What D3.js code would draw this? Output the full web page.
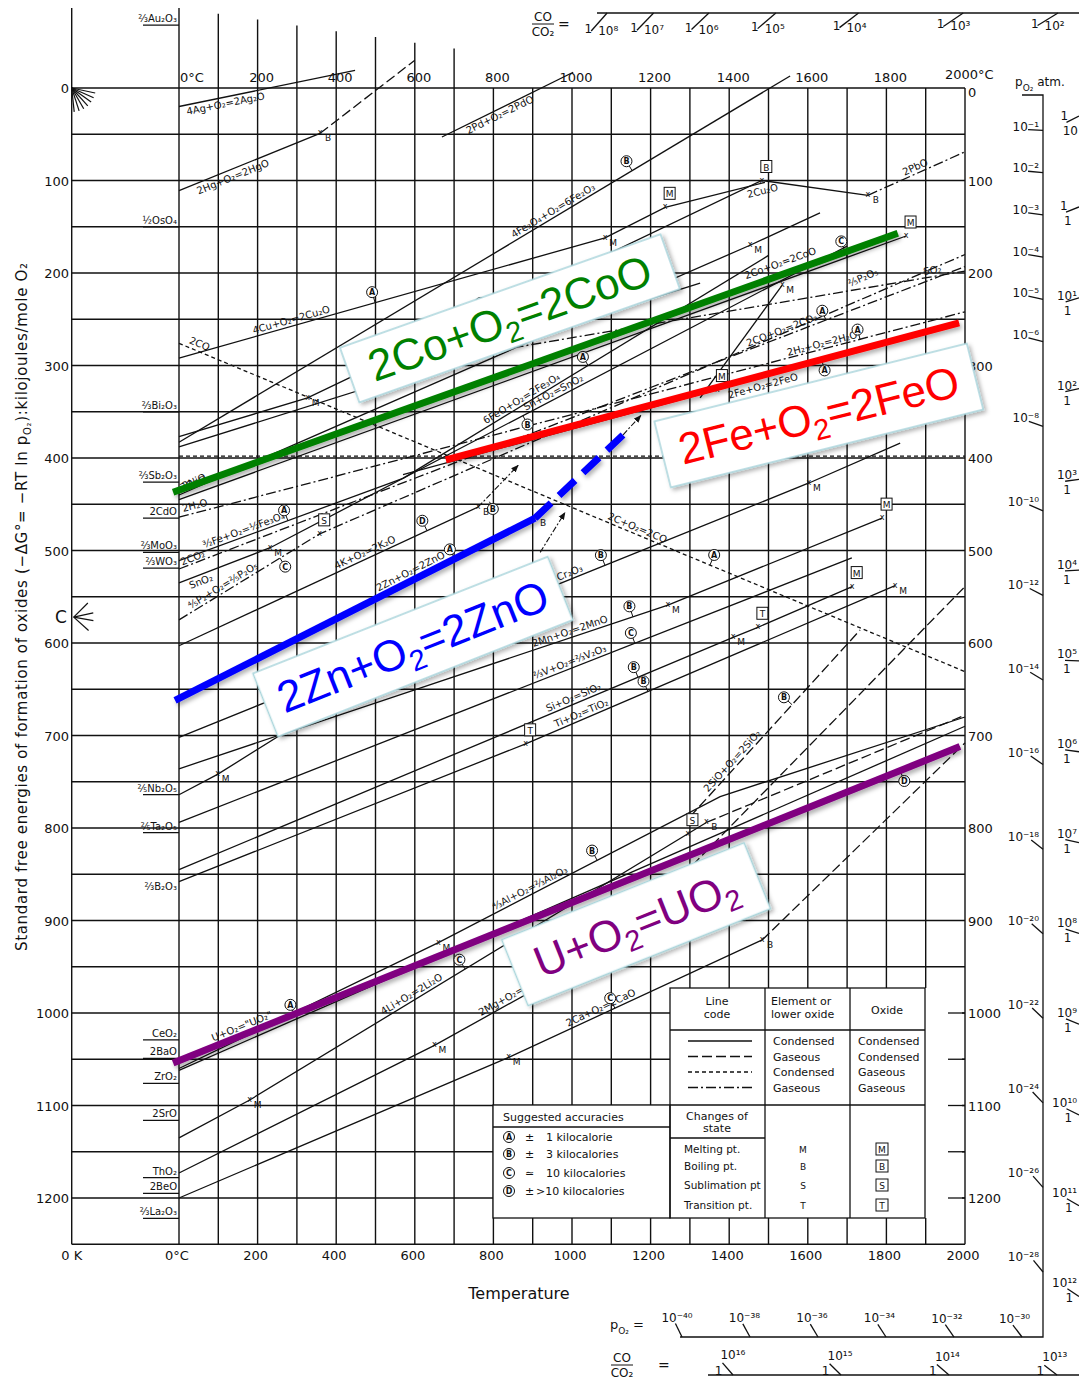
<!DOCTYPE html>
<html>
<head>
<meta charset="utf-8">
<title>Ellingham diagram for oxides</title>
<script src="https://cdn.jsdelivr.net/npm/d3@7/dist/d3.min.js"></script>
<style>
body { margin: 0; background: #fff; }
svg text { font-family: "DejaVu Sans", sans-serif; }
</style>
</head>
<body>
<script>
// temperatures in deg C, energies are -dG in kJ per mole O2

var tempTicks = d3.range(0, 2001, 200);
var energyTicks = d3.range(0, 1201, 100);

// id, line code (element / oxide state), points [T, -dG]
var reactions = [
  ["Ag2O",   "cc", [[0, 20], [448, -19]]],
  ["HgO",    "cc", [[0, 111], [359, 49]]],
  ["HgOg",   "gc", [[359, 49], [600, -30]]],
  ["PdO",    "cc", [[669, 53], [1003, -17]]],
  ["Fe2O3",  "cc", [[0, 383], [1555, -13]]],
  ["Cu2O",   "cc", [[0, 292], [1084, 162], [1237, 129], [1491, 102]]],
  ["PbO",    "cc", [[0, 377], [327, 335], [1483, 100], [1753, 116]]],
  ["PbOg",   "gg", [[1753, 116], [2000, 69]]],
  ["Bi2O3",  "cc", [[0, 388], [1326, 211]]],
  ["CO",     "cg", [[0, 276], [2000, 631]]],
  ["CO2",    "cg", [[0, 398], [2000, 398]]],
  ["SO2",    "gg", [[445, 310], [2000, 198]]],
  ["H2O",    "gg", [[0, 464], [2000, 242]]],
  ["CO2b",   "gg", [[0, 520], [2000, 193]]],
  ["SnO2",   "cc", [[0, 535], [232, 497], [1700, 171]]],
  ["Fe3O4a", "cc", [[570, 422], [1500, 181]]],
  ["Fe3O4b", "cc", [[0, 511], [570, 422]]],
  ["FeO",    "cc", [[570, 418], [1370, 326], [1985, 254]]],
  ["NiO",    "cc", [[0, 440], [1453, 170], [1631, 135]]],
  ["CoO",    "cc", [[0, 445], [1850, 160]]],
  ["P2O5",   "gg", [[0, 575], [358, 482], [2000, 180]]],
  ["K2O",    "cc", [[0, 603], [761, 453]]],
  ["ZnO",    "cc", [[0, 662], [906, 465]]],
  ["Cr2O3",  "cc", [[0, 702], [1603, 427], [1835, 384]]],
  ["MnO",    "cc", [[0, 736], [1244, 559], [1789, 465]]],
  ["Na2O",   "cc", [[0, 764], [98, 742], [883, 534]]],
  ["V2O3",   "cc", [[0, 794], [1712, 508]]],
  ["SiO2",   "cc", [[0, 845], [1410, 594], [1473, 583], [1713, 539]]],
  ["TiO2",   "cc", [[0, 858], [882, 709], [1822, 538]]],
  ["SiOg",   "gc", [[1300, 788], [1733, 586]]],
  ["Al2O3",  "cc", [[0, 1060], [660, 924], [1377, 766], [2000, 680]]],
  ["UO2",    "cc", [[0, 1054], [1987, 712]]],
  ["ZrO2",   "cc", [[0, 1062], [2000, 690]]],
  ["Li2O",   "cc", [[0, 1135], [180, 1094], [1342, 794]]],
  ["Li2Og",  "gc", [[1342, 794], [2000, 678]]],
  ["MgO",    "cc", [[0, 1173], [650, 1035], [1107, 927]]],
  ["MgOg",   "gc", [[1107, 927], [2000, 539]]],
  ["CaO",    "cc", [[0, 1200], [839, 1048], [1484, 921]]],
  ["CaOg",   "gc", [[1484, 921], [2000, 708]]],
  ["Zng",    "cc", [[1326, 335], [1535, 213]]]
];

// arrows showing where lines leave after boiling
var arrows = [
  [[761, 453], [863, 408]],
  [[919, 502], [982, 459]],
  [[1130, 375], [1175, 354]]
];

// label text along a reaction: id, text, T, offset (+ above)
var lineLabels = [
  ["Ag2O", "4Ag+O₂=2Ag₂O", 115, -10],
  ["HgO", "2Hg+O₂=2HgO", 130, -11],
  ["PdO", "2Pd+O₂=2PdO", 810, -9],
  ["Fe2O3", "4Fe₃O₄+O₂=6Fe₂O₃", 960, 3],
  ["Cu2O", "4Cu+O₂=2Cu₂O", 290, 3],
  ["Cu2O", "2Cu₂O", 1480, -11],
  ["PbOg", "2PbO", 1880, 3],
  ["CO", "2CO", 45, 4],
  ["CO", "2C+O₂=2CO", 1160, 3],
  ["H2O", "2H₂O", 45, 4],
  ["H2O", "2H₂+O₂=2H₂O", 1640, 2],
  ["CO2b", "2CO₂", 40, 2],
  ["CO2b", "2CO+O₂=2CO₂", 1540, 3],
  ["SnO2", "SnO₂", 50, -10],
  ["SnO2", "Sn+O₂=SnO₂", 960, 3],
  ["Fe3O4a", "6FeO+O₂=2Fe₃O₄", 880, 3],
  ["Fe3O4b", "³⁄₂Fe+O₂=½Fe₃O₄", 170, 3],
  ["FeO", "2Fe+O₂=2FeO", 1480, -12],
  ["NiO", "2NiO", 45, 3],
  ["CoO", "2CoO", 45, 7],
  ["CoO", "2Co+O₂=2CoO", 1545, 14],
  ["P2O5", "⅘P₂+O₂=⅖P₂O₅", 120, 3],
  ["P2O5", "⅖P₂O₅", 1760, 16],
  ["SO2", "SO₂", 1920, 3],
  ["K2O", "4K+O₂=2K₂O", 480, 3],
  ["ZnO", "2Zn+O₂=2ZnO", 600, 6],
  ["Cr2O3", "Cr₂O₃", 1000, 3],
  ["MnO", "2Mn+O₂=2MnO", 1000, 3],
  ["V2O3", "⅔V+O₂=⅔V₂O₃", 1000, 3],
  ["SiO2", "Si+O₂=SiO₂", 1010, 3],
  ["TiO2", "Ti+O₂=TiO₂", 1030, 3],
  ["SiOg", "2SiO+O₂=2SiO₂", 1420, 3],
  ["Al2O3", "⁴⁄₃Al+O₂=⅔Al₂O₃", 900, 3],
  ["UO2", "U+O₂=\"UO₂\"", 170, 7],
  ["Li2O", "4Li+O₂=2Li₂O", 600, 3],
  ["MgO", "2Mg+O₂=2MgO", 860, 3],
  ["CaO", "2Ca+O₂=2CaO", 1080, 3]
];

// suggested accuracy (circled letter): id, T, letter, offset
var accuracyMarks = [
  ["Cu2O", 499, "A", 11], ["Fe2O3", 1153, "B", 11], ["PbO", 779, "B", 11], ["CoO", 1700, "C", 17],
  ["H2O", 1733, "A", 10], ["CO2b", 1646, "A", 10], ["FeO", 1636, "A", -10], ["Fe3O4a", 1041, "A", 10],
  ["Fe3O4b", 277, "A", 11], ["P2O5", 257, "C", -10], ["SnO2", 875, "B", -10], ["K2O", 631, "D", 11],
  ["K2O", 790, "B", -8], ["ZnO", 702, "A", 11], ["CO", 1351, "A", 11], ["Cr2O3", 1084, "B", 11],
  ["MnO", 1155, "B", 11], ["V2O3", 1160, "C", 11], ["SiO2", 1168, "B", 11], ["TiO2", 1193, "B", 11],
  ["SiOg", 1560, "B", 11], ["Al2O3", 1064, "B", 11], ["UO2", 295, "A", 12], ["UO2", 1835, "D", -11],
  ["Li2O", 728, "C", 11], ["CaO", 1109, "C", 11]
];

// changes of state: id, T, letter, oxide (boxed) or element
var stateMarks = [
  ["HgO", 359, "B", 0], ["PbO", 327, "M", 0], ["PbO", 1483, "B", 1], ["PbO", 1753, "B", 0],
  ["Cu2O", 1084, "M", 0], ["Cu2O", 1237, "M", 1], ["NiO", 1453, "M", 0], ["CoO", 1850, "M", 1],
  ["FeO", 1370, "M", 1], ["SnO2", 232, "M", 0], ["P2O5", 358, "S", 1], ["K2O", 761, "B", 0],
  ["ZnO", 906, "B", 0], ["Cr2O3", 1603, "M", 0], ["MnO", 1244, "M", 0], ["MnO", 1789, "M", 1],
  ["SiO2", 1410, "M", 0], ["SiO2", 1473, "T", 1], ["SiO2", 1713, "M", 1], ["TiO2", 882, "T", 1],
  ["TiO2", 1822, "M", 0], ["Na2O", 98, "M", 0], ["Al2O3", 660, "M", 0], ["Li2O", 180, "M", 0],
  ["Li2O", 1342, "B", 0], ["Li2O", 1295, "S", 1], ["MgO", 650, "M", 0], ["MgO", 1107, "B", 0],
  ["CaO", 839, "M", 0], ["CaO", 1484, "B", 0], ["Zng", 1535, "M", 0]
];

// oxide names at the 0 deg C edge: text, -dG, underline
var leftOxides = [
  ["⅔Au₂O₃", -68, 1], ["½OsO₄", 150, 1], ["⅔Bi₂O₃", 350, 1], ["⅔Sb₂O₃", 426, 1],
  ["2CdO", 465, 1], ["⅔MoO₃", 502, 1], ["⅔WO₃", 519, 1], ["⅖Nb₂O₅", 764, 1],
  ["⅖Ta₂O₅", 805, 1], ["⅔B₂O₃", 870, 0], ["CeO₂", 1029, 1], ["2BaO", 1049, 1],
  ["ZrO₂", 1076, 1], ["2SrO", 1116, 1], ["ThO₂", 1178, 1], ["2BeO", 1195, 1], ["⅔La₂O₃", 1222, 1]
];

// highlighted reactions
var coOverlay = [[-15, 437], [1829, 157]];
var feOverlay = [[679, 402], [1985, 254]];
var znSolid = [[-10, 662], [906, 465]];
var znDashed = [[906, 465], [1130, 375]];
var uOverlay = [[-15, 1054], [1987, 712]];

// callouts: text parts, colour, centre T, centre -dG, angle, width, height
var callouts = [
  [["2Co+O", "2", "=2CoO"], "#008000", 842, 249, -19.5, 340, 58],
  [["2Fe+O", "2", "=2FeO"], "#ff0000", 1628, 354, -14, 322, 68],
  [["2Zn+O", "2", "=2ZnO"], "#0000ff", 595, 604, -21.6, 317, 68],
  [["U+O", "2", "=UO", "2"], "#800080", 1163, 904, -21.8, 261, 71]
];

// nomogram scales
var po2RightExp = [1, 2, 3, 4, 5, 6, 8, 10, 12, 14, 16, 18, 20, 22, 24, 26, 28];
var po2BottomExp = [40, 38, 36, 34, 32, 30];
var coTopExp = [8, 7, 6, 5, 4, 3, 2];
var coRightExp = [-1, 0, 1, 2, 3, 4, 5, 6, 7, 8, 9, 10, 11, 12];
var coBottomExp = [16, 15, 14, 13];
var gC = 572, coA = 0.173, coB = 0.0383;  // 2CO+O2=2CO2 and 2R ln10

var legendRows = [["cc", "Condensed", "Condensed"], ["gc", "Gaseous", "Condensed"],
                  ["cg", "Condensed", "Gaseous"], ["gg", "Gaseous", "Gaseous"]];
var stateRows = [["Melting pt.", "M"], ["Boiling pt.", "B"], ["Sublimation pt", "S"], ["Transition pt.", "T"]];
var accuracyRows = [["A", "±", "1 kilocalorie"], ["B", "±", "3 kilocalories"],
                    ["C", "≃", "10 kilocalories"], ["D", "±", ">10 kilocalories"]];

var dashes = {cc: null, gc: "10,4", cg: "4,3", gg: "10,3,2,3"};

var svg = d3.select("body").append("svg").attr("width", 1079).attr("height", 1380);
var x = d3.scaleLinear().domain([0, 2000]).range([179, 965]);
var y = d3.scaleLinear().domain([0, 1200]).range([88, 1198]);
var line = d3.line().x(function(d) { return x(d[0]); }).y(function(d) { return y(d[1]); });

var defs = svg.append("defs");
var sh = defs.append("filter").attr("id", "shadow")
  .attr("x", "-10%").attr("y", "-30%").attr("width", "125%").attr("height", "170%");
sh.append("feDropShadow").attr("dx", 2).attr("dy", 3).attr("stdDeviation", 2.2)
  .attr("flood-color", "#000").attr("flood-opacity", 0.3);
defs.append("marker").attr("id", "arrow").attr("viewBox", "0 0 10 10")
  .attr("refX", 9).attr("refY", 5).attr("markerWidth", 7).attr("markerHeight", 7)
  .attr("orient", "auto")
  .append("path").attr("d", "M0,1 L10,5 L0,9 Z").attr("fill", "#111");

var ink = "#111";

// grid
var grid = svg.append("g").attr("stroke", ink).attr("stroke-width", 1.4);
d3.range(0, 2001, 100).forEach(function(t) {
  var top = t <= 700 ? 8 + t * 0.058 : y(0);
  grid.append("line").attr("x1", x(t)).attr("x2", x(t)).attr("y1", top).attr("y2", y(1250));
});
grid.append("line").attr("x1", x(-273)).attr("x2", x(-273)).attr("y1", 8).attr("y2", y(1250));
d3.range(0, 1251, 50).forEach(function(g) {
  grid.append("line").attr("x1", x(-273)).attr("x2", x(2000)).attr("y1", y(g)).attr("y2", y(g));
});

// reaction lines
var byId = {};
var rl = svg.append("g").attr("fill", "none").attr("stroke", ink).attr("stroke-width", 1.3);
reactions.forEach(function(r) {
  byId[r[0]] = r[2];
  rl.append("path").attr("d", line(r[2])).attr("stroke-dasharray", dashes[r[1]]);
});
arrows.forEach(function(a) {
  rl.append("path").attr("d", line(a)).attr("stroke-dasharray", "6,2,2,2")
    .attr("stroke-width", 1.1).attr("marker-end", "url(#arrow)");
});

function pointAt(pts, t) {
  for (var i = 0; i < pts.length - 1; i++) {
    var a = pts[i], b = pts[i + 1];
    if ((t >= a[0] && t <= b[0]) || i === pts.length - 2) {
      var f = (t - a[0]) / (b[0] - a[0]);
      var ax = x(a[0]), ay = y(a[1]), bx = x(b[0]), by = y(b[1]);
      return {x: ax + f * (bx - ax), y: ay + f * (by - ay), a: Math.atan2(by - ay, bx - ax)};
    }
  }
}

var lab = svg.append("g").attr("fill", ink).attr("font-size", 10);
lineLabels.forEach(function(l) {
  var p = pointAt(byId[l[0]], l[2]);
  var px = p.x + l[3] * Math.sin(p.a), py = p.y - l[3] * Math.cos(p.a);
  lab.append("text").attr("text-anchor", "middle")
    .attr("transform", "translate(" + px + "," + py + ") rotate(" + (p.a * 180 / Math.PI) + ")")
    .text(l[1]);
});

accuracyMarks.forEach(function(m) {
  var p = pointAt(byId[m[0]], m[1]);
  var cx = p.x + m[3] * Math.sin(p.a), cy = p.y - m[3] * Math.cos(p.a);
  lab.append("line").attr("x1", p.x).attr("y1", p.y)
    .attr("x2", p.x + (m[3] - Math.sign(m[3]) * 5) * Math.sin(p.a))
    .attr("y2", p.y - (m[3] - Math.sign(m[3]) * 5) * Math.cos(p.a))
    .attr("stroke", ink).attr("stroke-width", 1);
  lab.append("circle").attr("cx", cx).attr("cy", cy).attr("r", 5.5)
    .attr("fill", "#fff").attr("stroke", ink).attr("stroke-width", 1);
  lab.append("text").attr("x", cx).attr("y", cy + 3).attr("text-anchor", "middle")
    .attr("font-size", 8).attr("font-weight", "bold").text(m[2]);
});

stateMarks.forEach(function(m) {
  var p = pointAt(byId[m[0]], m[1]);
  lab.append("text").attr("x", p.x).attr("y", p.y + 2).attr("text-anchor", "middle")
    .attr("font-size", 8).text("x");
  if (m[3]) {
    lab.append("rect").attr("x", p.x - 1).attr("y", p.y - 20).attr("width", 11).attr("height", 12)
      .attr("fill", "#fff").attr("stroke", ink).attr("stroke-width", 1);
    lab.append("text").attr("x", p.x + 4.5).attr("y", p.y - 10).attr("text-anchor", "middle")
      .attr("font-size", 9).text(m[2]);
  } else {
    lab.append("text").attr("x", p.x + 8).attr("y", p.y + 8).attr("text-anchor", "middle")
      .attr("font-size", 9).text(m[2]);
  }
});

// oxide names at left
leftOxides.forEach(function(o) {
  lab.append("text").attr("x", 177).attr("y", y(o[1]) - 3).attr("text-anchor", "end")
    .attr("font-size", 10).text(o[0]);
  if (o[2]) {
    lab.append("line").attr("x1", 143).attr("x2", x(0)).attr("y1", y(o[1])).attr("y2", y(o[1]))
      .attr("stroke", ink).attr("stroke-width", 1.3);
  }
});

// fans at O and C
var O = [x(-273), y(0)], C = [x(-273), y(gC)];
[12, 24, 36, 48, 60, 72, 84].forEach(function(a) {
  var r = a * Math.PI / 180;
  svg.append("line").attr("x1", O[0]).attr("y1", O[1])
    .attr("x2", O[0] + 24 * Math.cos(r)).attr("y2", O[1] + 24 * Math.sin(r))
    .attr("stroke", ink).attr("stroke-width", 1.2);
});
[-45, -12, 10, 42].forEach(function(a) {
  var r = a * Math.PI / 180;
  svg.append("line").attr("x1", C[0] + 2).attr("y1", C[1])
    .attr("x2", C[0] + 2 + 20 * Math.cos(r)).attr("y2", C[1] + 20 * Math.sin(r))
    .attr("stroke", ink).attr("stroke-width", 1.2);
});
svg.append("text").attr("x", 55).attr("y", C[1] + 6).attr("font-size", 17).attr("fill", ink).text("C");

// legend background
svg.append("rect").attr("x", 670).attr("y", 988).attr("width", 292).attr("height", 230).attr("fill", "#fff");
svg.append("rect").attr("x", 493).attr("y", 1105).attr("width", 177).attr("height", 113).attr("fill", "#fff");

// axes labels
var ax = svg.append("g").attr("fill", ink).attr("font-size", 13);
energyTicks.forEach(function(g) {
  ax.append("text").attr("x", 69).attr("y", y(g) + 5).attr("text-anchor", "end").text(g);
  ax.append("text").attr("x", 968).attr("y", g === 0 ? y(g) + 9 : y(g) + 5).text(g);
});
[1000, 1050, 1100, 1150, 1200].forEach(function(g) {
  svg.append("line").attr("x1", 948).attr("x2", x(2000)).attr("y1", y(g)).attr("y2", y(g))
    .attr("stroke", ink).attr("stroke-width", 1.3);
});
tempTicks.forEach(function(t) {
  var top = t === 0 ? "0°C" : (t === 2000 ? "2000°C" : t);
  ax.append("text").attr("x", t === 0 ? x(0) + 1 : (t === 2000 ? x(t) - 20 : x(t) + 4))
    .attr("y", t === 2000 ? 79 : 82)
    .attr("text-anchor", t === 0 || t === 2000 ? "start" : "middle").text(top);
  ax.append("text").attr("x", x(t) - 2).attr("y", 1260).attr("text-anchor", "middle")
    .text(t === 0 ? "0°C" : t);
});
ax.append("text").attr("x", x(-273)).attr("y", 1260).attr("text-anchor", "middle").text("0 K");
ax.append("text").attr("x", 519).attr("y", 1299).attr("text-anchor", "middle").attr("font-size", 16)
  .text("Temperature");

function addSub(t, before, sub, after, size, shift) {
  t.append("tspan").text(before);
  t.append("tspan").attr("font-size", size).attr("dy", shift).text(sub);
  t.append("tspan").attr("dy", -shift).text(after);
}
var yt = ax.append("text").attr("transform", "translate(27,607) rotate(-90)")
  .attr("text-anchor", "middle").attr("font-size", 15)
  .attr("textLength", 688).attr("lengthAdjust", "spacing");
addSub(yt, "Standard  free  energies  of  formation  of  oxides  (−ΔG°= −RT ln p", "O₂",
  "):kilojoules/mole  O₂", 10, 4);

// legend
var lg = svg.append("g").attr("fill", ink).attr("font-size", 11);
var lgl = svg.append("g").attr("stroke", ink).attr("stroke-width", 1.3).attr("fill", "none");
lgl.append("rect").attr("x", 670).attr("y", 988).attr("width", 255).attr("height", 230);
lgl.append("rect").attr("x", 493).attr("y", 1105).attr("width", 177).attr("height", 113);
[[765, 988, 765, 1218], [850, 988, 850, 1218], [670, 1030, 925, 1030], [670, 1105, 925, 1105],
 [670, 1138, 765, 1138], [493, 1127, 670, 1127]].forEach(function(s) {
  lgl.append("line").attr("x1", s[0]).attr("y1", s[1]).attr("x2", s[2]).attr("y2", s[3]);
});
lg.append("text").attr("x", 717).attr("y", 1005).attr("text-anchor", "middle").text("Line");
lg.append("text").attr("x", 717).attr("y", 1018).attr("text-anchor", "middle").text("code");
lg.append("text").attr("x", 771).attr("y", 1005).text("Element or");
lg.append("text").attr("x", 771).attr("y", 1018).text("lower  oxide");
lg.append("text").attr("x", 887).attr("y", 1014).attr("text-anchor", "middle").text("Oxide");
legendRows.forEach(function(r, i) {
  var yy = 1045 + i * 15.5;
  lgl.append("line").attr("x1", 688).attr("x2", 752).attr("y1", yy - 4).attr("y2", yy - 4)
    .attr("stroke-dasharray", dashes[r[0]]);
  lg.append("text").attr("x", 773).attr("y", yy).text(r[1]);
  lg.append("text").attr("x", 858).attr("y", yy).text(r[2]);
});
lg.append("text").attr("x", 717).attr("y", 1120).attr("text-anchor", "middle").text("Changes of");
lg.append("text").attr("x", 717).attr("y", 1132).attr("text-anchor", "middle").text("state");
stateRows.forEach(function(r, i) {
  var yy = [1153, 1170, 1189, 1209][i];
  lg.append("text").attr("x", 684).attr("y", yy).attr("font-size", 10.5).text(r[0]);
  lg.append("text").attr("x", 803).attr("y", yy).attr("text-anchor", "middle").attr("font-size", 9).text(r[1]);
  lgl.append("rect").attr("x", 876).attr("y", yy - 10).attr("width", 12).attr("height", 12).attr("stroke-width", 1);
  lg.append("text").attr("x", 882).attr("y", yy).attr("text-anchor", "middle").attr("font-size", 9).text(r[1]);
});
lg.append("text").attr("x", 503).attr("y", 1121).text("Suggested  accuracies");
accuracyRows.forEach(function(r, i) {
  var yy = [1141, 1158, 1177, 1195][i];
  lgl.append("circle").attr("cx", 509).attr("cy", yy - 4).attr("r", 5.5).attr("stroke-width", 1);
  lg.append("text").attr("x", 509).attr("y", yy - 1).attr("text-anchor", "middle")
    .attr("font-size", 8).attr("font-weight", "bold").text(r[0]);
  lg.append("text").attr("x", 525).attr("y", yy).text(r[1]);
  lg.append("text").attr("x", r[0] === "D" ? 536 : 546).attr("y", yy).text(r[2]);
});

// nomograms
function unit(ax0, ay0, bx, by) {
  var dx = bx - ax0, dy = by - ay0, l = Math.hypot(dx, dy);
  return [dx / l, dy / l];
}
var supMap = {"-": "⁻", "0": "⁰", "1": "¹", "2": "²", "3": "³", "4": "⁴", "5": "⁵",
              "6": "⁶", "7": "⁷", "8": "⁸", "9": "⁹"};
function sup(s) { return String(s).split("").map(function(c) { return supMap[c]; }).join(""); }

var nm = svg.append("g").attr("stroke", ink).attr("stroke-width", 1.3).attr("fill", "none");
var nt = svg.append("g").attr("fill", ink).attr("font-size", 12);
var po2Right = d3.scaleLinear().domain([0, 28]).range([y(0), 1272]);
var po2Bottom = d3.scaleLinear().domain([40, 30]).range([682, 1022]);
var coBottom = d3.scaleLinear().domain([16, 13]).range([733, 1057]);

nm.append("path").attr("d", "M1022,95 H1043 V1337 H680");
nm.append("path").attr("d", "M597,13 H1079");
nm.append("path").attr("d", "M708,1375 H1079");

var pa = nt.append("text").attr("x", 1015).attr("y", 86).attr("font-size", 12);
addSub(pa, "p", "O₂", " atm.", 9, 5);

po2RightExp.forEach(function(n) {
  var ex = 1043, ey = po2Right(n), u = unit(O[0], O[1], ex, ey);
  var sx = ex - 15 * u[0], sy = ey - 15 * u[1];
  nm.append("line").attr("x1", sx).attr("y1", sy).attr("x2", ex).attr("y2", ey);
  nt.append("text").attr("x", 1039).attr("y", sy + 1).attr("text-anchor", "end").text("10" + sup(-n));
});
po2BottomExp.forEach(function(n) {
  var ex = po2Bottom(n), ey = 1337, u = unit(O[0], O[1], ex, ey);
  var sx = ex - 15 * u[0], sy = ey - 15 * u[1];
  nm.append("line").attr("x1", sx).attr("y1", sy).attr("x2", ex).attr("y2", ey);
  nt.append("text").attr("x", sx - 14).attr("y", sy - 2).text("10" + sup(-n));
});
var pb = nt.append("text").attr("x", 610).attr("y", 1329).attr("font-size", 13);
addSub(pb, "p", "O₂", " =", 9, 5);

var gTop = y.invert(13);
coTopExp.forEach(function(n) {
  var tk = (gC - gTop) / (coA + coB * n);
  var ex = Math.min(x(tk - 273), 1058), ey = 13, u = unit(C[0], C[1], ex, ey);
  var sx = ex - 24 * u[0], sy = ey - 24 * u[1];
  nm.append("line").attr("x1", sx).attr("y1", sy).attr("x2", ex).attr("y2", ey);
  nt.append("text").attr("x", sx + 1).attr("y", sy + 2).attr("text-anchor", "end").text("1");
  nt.append("text").attr("x", sx + 7).attr("y", sy + 4).text("10" + sup(n));
});
var tkRight = x.invert(1079) + 273;
coRightExp.forEach(function(k) {
  var ex = 1079, ey = y(gC - tkRight * (coA - coB * k)), u = unit(C[0], C[1], ex, ey);
  var sx = ex - 14 * u[0], sy = ey - 14 * u[1];
  nm.append("line").attr("x1", sx).attr("y1", sy).attr("x2", ex).attr("y2", ey);
  nt.append("text").attr("x", k < 1 ? sx - 6 : 1077).attr("y", sy - 2)
    .attr("text-anchor", k < 1 ? "start" : "end").text(k < 1 ? "1" : "10" + sup(k));
  nt.append("text").attr("x", k < 0 ? 1078 : sx - 2).attr("y", sy + 13)
    .attr("text-anchor", k < 0 ? "end" : "start").text(k < 0 ? "10" : "1");
});
coBottomExp.forEach(function(k) {
  var ex = coBottom(k), ey = 1375, u = unit(C[0], C[1], ex, ey);
  var sx = ex - 16 * u[0], sy = ey - 16 * u[1];
  nm.append("line").attr("x1", sx).attr("y1", sy).attr("x2", ex).attr("y2", ey);
  nt.append("text").attr("x", Math.min(sx - 2, 1052)).attr("y", sy - 4).text("10" + sup(k));
  nt.append("text").attr("x", sx - 4).attr("y", 1375).attr("text-anchor", "middle").text("1");
});
function coFrac(cx, cy, eqx) {
  nt.append("text").attr("x", cx).attr("y", cy - 3).attr("text-anchor", "middle").text("CO");
  nm.append("line").attr("x1", cx - 11).attr("x2", cx + 11).attr("y1", cy).attr("y2", cy).attr("stroke-width", 1);
  nt.append("text").attr("x", cx).attr("y", cy + 12).attr("text-anchor", "middle").text("CO₂");
  nt.append("text").attr("x", eqx).attr("y", cy + 5).attr("font-size", 14).text("=");
}
coFrac(543, 24, 558);
coFrac(622, 1365, 658);

// highlighted reactions
var hl = svg.append("g").attr("fill", "none").attr("stroke-width", 7).attr("filter", "url(#shadow)");
hl.append("path").attr("d", line(coOverlay)).attr("stroke", "#008000");
hl.append("path").attr("d", line(feOverlay)).attr("stroke", "#ff0000");
hl.append("path").attr("d", line(znSolid)).attr("stroke", "#0000ff");
hl.append("path").attr("d", line(znDashed)).attr("stroke", "#0000ff").attr("stroke-dasharray", "22,11");
hl.append("path").attr("d", line(uOverlay)).attr("stroke", "#800080");

callouts.forEach(function(c) {
  var g = svg.append("g").attr("transform",
    "translate(" + x(c[2]) + "," + y(c[3]) + ") rotate(" + c[4] + ")");
  g.append("rect").attr("x", -c[5] / 2).attr("y", -c[6] / 2).attr("width", c[5]).attr("height", c[6])
    .attr("fill", "#fff").attr("stroke", "#a9d5dc").attr("stroke-width", 1.5)
    .attr("filter", "url(#shadow)");
  var t = g.append("text").attr("text-anchor", "middle").attr("y", 15)
    .style("font-family", "'Liberation Sans', Arial, sans-serif").style("font-size", "44px")
    .style("fill", c[1]);
  c[0].forEach(function(part, i) {
    var isSub = i % 2 === 1;
    var ts = t.append("tspan").text(part);
    if (isSub) ts.style("font-size", "29px").attr("dy", 9);
    else if (i > 0) ts.attr("dy", -9);
  });
});
</script>
</body>
</html>
